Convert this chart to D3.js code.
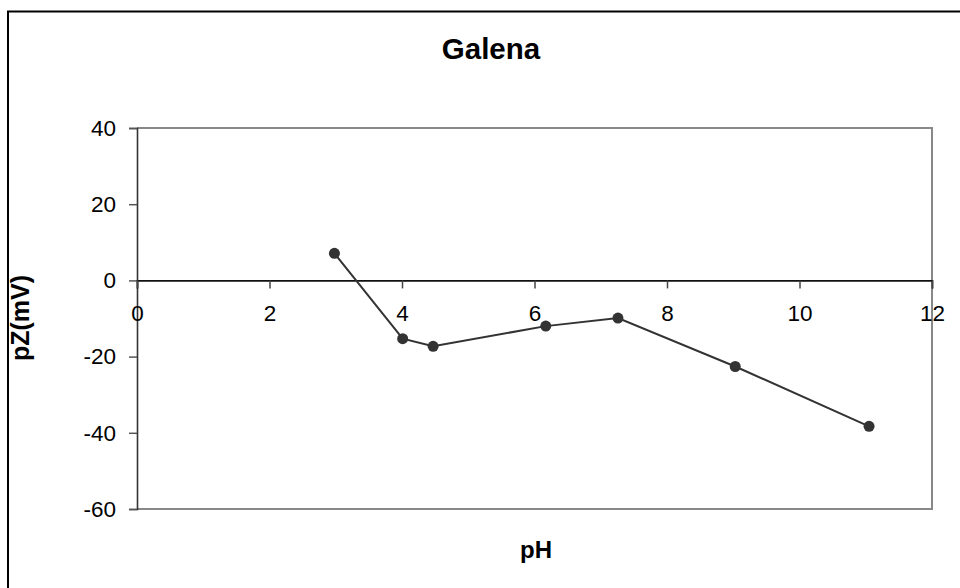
<!DOCTYPE html>
<html>
<head>
<meta charset="utf-8">
<script src="https://cdn.jsdelivr.net/npm/d3@7"></script>
<style>
  html, body { margin: 0; padding: 0; background: #fff; }
  svg { display: block; font-family: "Liberation Sans", Arial, sans-serif; }
</style>
</head>
<body>
<svg id="chart" width="960" height="588"></svg>
<script>
// Zeta potential of galena versus pH
const phValues = [2.98, 4.01, 4.47, 6.17, 7.26, 9.03, 11.05];
const zetaValues = [7.1, -15.3, -17.3, -12.0, -9.9, -22.6, -38.3];
const xTicks = [0, 2, 4, 6, 8, 10, 12];
const yTicks = [40, 20, 0, -20, -40, -60];
const titleText = "Galena";
const xTitle = "pH";
const yTitle = "pZ(mV)";

const svg = d3.select("#chart");
const plot = { left: 137, right: 932, top: 128, bottom: 509 };

const x = d3.scaleLinear().domain([0, 12]).range([plot.left, plot.right]);
const y = d3.scaleLinear().domain([-60, 40]).range([plot.bottom, plot.top]);

// outer chart frame (continues past the visible page)
svg.append("rect")
  .attr("x", 8).attr("y", 11.5)
  .attr("width", 980).attr("height", 600)
  .attr("fill", "none").attr("stroke", "#000").attr("stroke-width", 2);

// plot area border: top, right, bottom in gray
svg.append("path")
  .attr("d", `M${plot.left},${plot.top}H${plot.right}V${plot.bottom}H${plot.left}`)
  .attr("fill", "none").attr("stroke", "#888").attr("stroke-width", 2);

const plainFormat = d => String(d);

// y axis on the left
const yAxis = d3.axisLeft(y).tickValues(yTicks).tickSize(8).tickPadding(13)
  .tickFormat(plainFormat);
const gy = svg.append("g").attr("transform", `translate(${plot.left},0)`).call(yAxis);
gy.select(".domain").attr("stroke", "#333").attr("stroke-width", 1.6);
gy.selectAll(".tick line").attr("stroke", "#555").attr("stroke-width", 1.5);
gy.selectAll(".tick text")
  .attr("font-size", 22.5).attr("fill", "#000")
  .attr("font-family", "Liberation Sans, Arial, sans-serif");

// x axis crossing at zero
const xAxis = d3.axisBottom(x).tickValues(xTicks).tickSize(8).tickPadding(17)
  .tickFormat(plainFormat);
const gx = svg.append("g").attr("transform", `translate(0,${y(0)})`).call(xAxis);
gx.select(".domain").attr("stroke", "#111").attr("stroke-width", 1.6);
gx.selectAll(".tick line").attr("stroke", "#444").attr("stroke-width", 1.5);
gx.selectAll(".tick text")
  .attr("font-size", 22.5).attr("fill", "#000")
  .attr("font-family", "Liberation Sans, Arial, sans-serif");

// data series
const pts = phValues.map((v, i) => [v, zetaValues[i]]);
svg.append("path")
  .datum(pts)
  .attr("fill", "none").attr("stroke", "#333").attr("stroke-width", 2)
  .attr("d", d3.line().x(d => x(d[0])).y(d => y(d[1])));

svg.selectAll("circle.pt")
  .data(pts).enter().append("circle")
  .attr("class", "pt")
  .attr("cx", d => x(d[0])).attr("cy", d => y(d[1]))
  .attr("r", 5.5).attr("fill", "#333");

// titles
svg.append("text")
  .attr("x", 491).attr("y", 58.5)
  .attr("text-anchor", "middle")
  .attr("font-size", 29.5).attr("font-weight", "bold")
  .text(titleText);

svg.append("text")
  .attr("x", 536).attr("y", 558)
  .attr("text-anchor", "middle")
  .attr("font-size", 24).attr("font-weight", "bold")
  .text(xTitle);

svg.append("text")
  .attr("transform", "translate(29,318) rotate(-90)")
  .attr("text-anchor", "middle")
  .attr("font-size", 25).attr("font-weight", "bold")
  .text(yTitle);
</script>
</body>
</html>
